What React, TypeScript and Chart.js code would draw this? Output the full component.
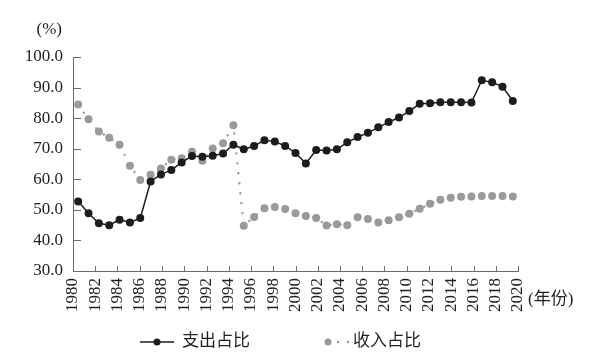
import React, { useEffect, useRef } from 'react';
import { Chart, registerables } from 'chart.js';

Chart.register(...registerables);

// ---- data ----
const years = [
  1978, 1979, 1980, 1981, 1982, 1983, 1984, 1985, 1986, 1987,
  1988, 1989, 1990, 1991, 1992, 1993, 1994, 1995, 1996, 1997,
  1998, 1999, 2000, 2001, 2002, 2003, 2004, 2005, 2006, 2007,
  2008, 2009, 2010, 2011, 2012, 2013, 2014, 2015, 2016, 2017,
  2018, 2019, 2020,
];

const expenditureShare = [
  52.7, 48.9, 45.6, 45.0, 46.8, 45.9, 47.3, 59.3, 61.6, 63.0,
  65.5, 67.6, 67.4, 67.7, 68.4, 71.3, 69.8, 70.9, 72.8, 72.4,
  70.9, 68.6, 65.2, 69.6, 69.4, 69.8, 72.1, 73.8, 75.2, 77.0,
  78.7, 80.2, 82.3, 84.7, 84.9, 85.2, 85.2, 85.2, 85.1, 92.4,
  91.7, 90.3, 85.6,
];

const revenueShare = [
  84.5, 79.6, 75.6, 73.6, 71.3, 64.4, 59.8, 61.5, 63.5, 66.4,
  66.9, 69.0, 66.1, 70.1, 71.8, 77.7, 44.8, 47.7, 50.5, 50.9,
  50.3, 48.9, 48.0, 47.3, 44.9, 45.3, 45.0, 47.6, 47.0, 45.9,
  46.6, 47.6, 48.7, 50.4, 52.0, 53.3, 54.0, 54.3, 54.4, 54.5,
  54.5, 54.5, 54.4,
];

const xTickLabels = [
  '1980', '1982', '1984', '1986', '1988', '1990', '1992', '1994', '1996', '1998',
  '2000', '2002', '2004', '2006', '2008', '2010', '2012', '2014', '2016', '2018', '2020',
];

const yTickValues = [30, 40, 50, 60, 70, 80, 90, 100];

const seriesNames = ['支出占比', '收入占比'];
const yUnitLabel = '(%)';
const xUnitLabel = '(年份)';

// ---- styles ----
const FONT = '"Liberation Serif", "Noto Sans CJK SC", serif';
const TEXT = '#231f20';
const AXIS = '#6a6a6a';
const BLACK = '#1c1c1c';
const GREY = '#9a9a9a';

const decorPlugin = {
  id: 'decor',
  afterDraw(chart: any) {
    const { ctx, chartArea, scales } = chart;
    const xs = scales.x;
    const ys = scales.y;
    ctx.save();
    // inward tick marks
    ctx.strokeStyle = AXIS;
    ctx.lineWidth = 1;
    ctx.beginPath();
    ys.ticks.forEach((t: any) => {
      const py = Math.round(ys.getPixelForValue(t.value)) + 0.5;
      ctx.moveTo(chartArea.left, py);
      ctx.lineTo(chartArea.left + 8, py);
    });
    xs.ticks.forEach((t: any) => {
      const px = Math.round(xs.getPixelForValue(t.value)) + 0.5;
      ctx.moveTo(px, chartArea.bottom);
      ctx.lineTo(px, chartArea.bottom - 5);
    });
    ctx.stroke();

    // unit labels
    ctx.fillStyle = TEXT;
    ctx.font = `17px ${FONT}`;
    ctx.textBaseline = 'middle';
    ctx.textAlign = 'right';
    ctx.fillText(yUnitLabel, chartArea.left - 11, chartArea.top - 27);
    ctx.textAlign = 'left';
    ctx.fillText(xUnitLabel, chartArea.right + 10, chartArea.bottom + 29);

    // legend
    const ly = 342;
    // series 1: solid line with marker
    ctx.strokeStyle = BLACK;
    ctx.lineWidth = 1.5;
    ctx.beginPath();
    ctx.moveTo(140, ly);
    ctx.lineTo(174, ly);
    ctx.stroke();
    ctx.fillStyle = BLACK;
    ctx.beginPath();
    ctx.arc(157, ly, 3.5, 0, Math.PI * 2);
    ctx.fill();
    // series 2: marker with dots
    ctx.fillStyle = GREY;
    ctx.beginPath();
    ctx.arc(328, ly, 3.5, 0, Math.PI * 2);
    ctx.fill();
    [338, 348].forEach((dx) => {
      ctx.beginPath();
      ctx.arc(dx, ly, 1.2, 0, Math.PI * 2);
      ctx.fill();
    });
    ctx.fillStyle = TEXT;
    ctx.font = `17px ${FONT}`;
    ctx.textAlign = 'left';
    ctx.fillText(seriesNames[0], 182, ly);
    ctx.fillText(seriesNames[1], 353, ly);
    ctx.restore();
  },
};

export default function App() {
  const ref = useRef<HTMLCanvasElement | null>(null);

  useEffect(() => {
    if (!ref.current) return;
    const chart = new Chart(ref.current, {
      type: 'line',
      data: {
        datasets: [
          {
            label: seriesNames[0],
            data: years.map((yr, i) => ({ x: yr, y: expenditureShare[i] })),
            borderColor: BLACK,
            backgroundColor: BLACK,
            borderWidth: 1.5,
            pointRadius: 4,
            pointBorderWidth: 0,
            pointBackgroundColor: BLACK,
            tension: 0,
          },
          {
            label: seriesNames[1],
            data: years.map((yr, i) => ({ x: yr, y: revenueShare[i] })),
            borderColor: GREY,
            backgroundColor: GREY,
            borderWidth: 2.4,
            borderDash: [0, 10],
            borderCapStyle: 'round',
            pointRadius: 4,
            pointBorderWidth: 0,
            pointBackgroundColor: GREY,
            tension: 0,
          },
        ],
      },
      options: {
        animation: false,
        responsive: true,
        maintainAspectRatio: false,
        events: [],
        layout: { padding: { top: 57, right: 90, bottom: 0, left: 0 } },
        plugins: {
          legend: { display: false },
          tooltip: { enabled: false },
          title: { display: false },
        },
        scales: {
          x: {
            type: 'linear',
            min: years[0] - 0.5,
            max: years[years.length - 1] + 0.5,
            afterBuildTicks: (s: any) => {
              const n = xTickLabels.length - 1;
              s.ticks = xTickLabels.map((_, k) => ({ value: s.min + ((s.max - s.min) * k) / n }));
            },
            afterFit: (s: any) => {
              s.height = 93;
            },
            ticks: {
              autoSkip: false,
              maxRotation: 90,
              minRotation: 90,
              padding: 7,
              color: TEXT,
              font: { family: FONT, size: 17 },
              callback: (_v: any, i: number) => xTickLabels[i],
            },
            grid: { display: false, drawTicks: false },
            border: { display: true, color: AXIS, width: 1 },
          },
          y: {
            type: 'linear',
            min: yTickValues[0],
            max: yTickValues[yTickValues.length - 1],
            afterBuildTicks: (s: any) => {
              s.ticks = yTickValues.map((v) => ({ value: v }));
            },
            afterFit: (s: any) => {
              s.width = 73;
            },
            ticks: {
              padding: 10,
              color: TEXT,
              font: { family: FONT, size: 17 },
              callback: (v: any) => Number(v).toFixed(1),
            },
            grid: { display: false, drawTicks: false },
            border: { display: true, color: AXIS, width: 1 },
          },
        },
      },
      plugins: [decorPlugin],
    } as any);
    return () => chart.destroy();
  }, []);

  return (
    <div style={{ position: 'absolute', left: 0, top: 0, width: 608, height: 364, background: '#fff' }}>
      <canvas ref={ref} />
    </div>
  );
}
